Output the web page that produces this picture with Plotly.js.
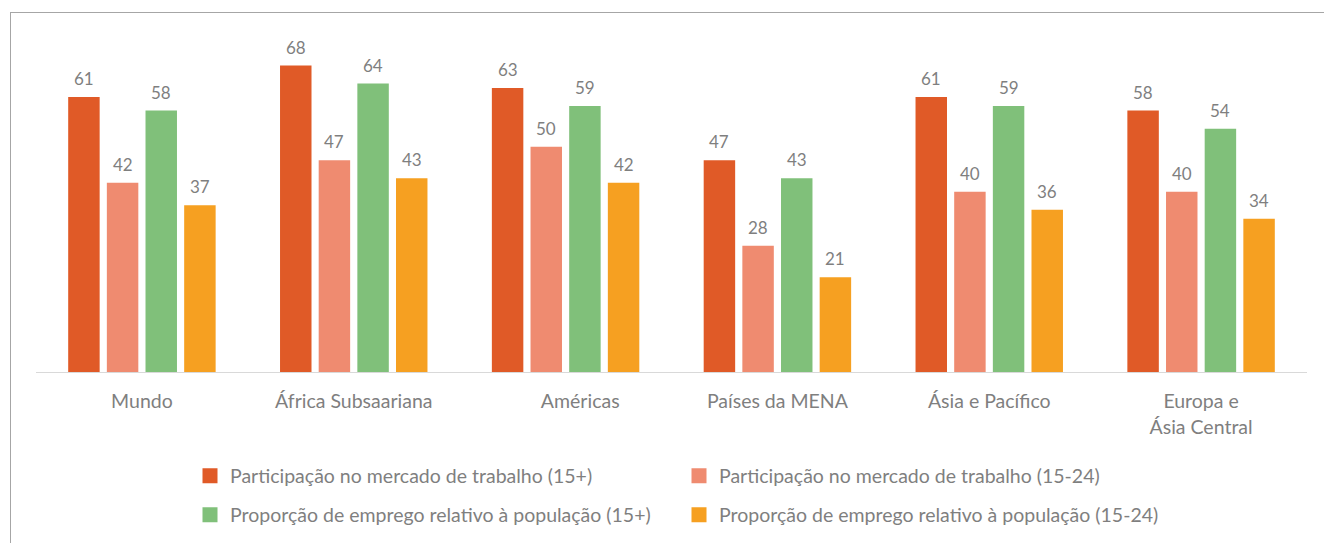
<!DOCTYPE html>
<html>
<head>
<meta charset="utf-8">
<script src="https://cdn.plot.ly/plotly-3.0.1.min.js"></script>
<style>
  html, body { margin: 0; padding: 0; background: #ffffff; overflow: hidden; }
  #frame { position: absolute; left: 10px; top: 12px; width: 1400px; height: 600px;
           border-top: 1px solid #a6a6a6; border-left: 1px solid #a6a6a6; pointer-events: none; }
  #chart { position: absolute; left: 0; top: 0; width: 1324px; height: 543px; }
</style>
</head>
<body>
<div id="chart"></div>
<div id="frame"></div>
<script>
// ---- data ----
const categories = ["Mundo", "África Subsaariana", "\u00a0\u00a0\u00a0\u00a0\u00a0\u00a0Américas", "Países da MENA", "Ásia e Pacífico", "Europa e<br>Ásia Central"];
const seriesNames = [
  "Participação no mercado de trabalho (15+)",
  "Participação no mercado de trabalho (15-24)",
  "Proporção de emprego relativo à população (15+)",
  "Proporção de emprego relativo à população (15-24)"
];
const lfp15 = [61, 68, 63, 47, 61, 58];
const lfp1524 = [42, 47, 50, 28, 40, 40];
const epr15 = [58, 64, 59, 43, 59, 54];
const epr1524 = [37, 43, 42, 21, 36, 34];

const seriesValues = [lfp15, lfp1524, epr15, epr1524];
const colors = ["#E05A27", "#EF8B70", "#80C07A", "#F6A021"];
const textColor = "#7f7f7f";
const fontFamily = "Lato, 'Open Sans', sans-serif";

const bargap = 0.27;
const bargroupgap = 0.186;

const traces = [];
seriesValues.forEach((vals, i) => {
  traces.push({
    type: "bar",
    x: categories,
    y: vals,
    name: seriesNames[i],
    marker: { color: colors[i] },
    showlegend: false,
    hoverinfo: "y+name"
  });
});
// legend proxies (square swatches)
seriesValues.forEach((vals, i) => {
  traces.push({
    type: "scatter",
    mode: "markers",
    x: [null], y: [null],
    name: seriesNames[i],
    marker: { color: colors[i], symbol: "square", size: 15 },
    showlegend: true,
    legend: i < 2 ? "legend" : "legend2",
    hoverinfo: "skip"
  });
});

// data labels above bars
const annotations = [];
const slot = (1 - bargap) / seriesValues.length;
seriesValues.forEach((vals, i) => {
  const off = (i - (seriesValues.length - 1) / 2) * slot;
  vals.forEach((v, j) => {
    annotations.push({
      x: j + off, y: v, xref: "x", yref: "y",
      text: String(v), showarrow: false,
      yanchor: "bottom", yshift: 6,
      font: { family: fontFamily, size: 17, color: textColor }
    });
  });
});

const legendCommon = {
  orientation: "h",
  xref: "paper", yref: "paper",
  xanchor: "left", yanchor: "middle",
  entrywidth: 444,
  entrywidthmode: "pixels",
  font: { family: fontFamily, size: 19.5, color: textColor },
  bgcolor: "rgba(0,0,0,0)",
  itemclick: false, itemdoubleclick: false
};

const layout = {
  width: 1324, height: 543,
  margin: { l: 36, r: 17, t: 34, b: 171, autoexpand: false },
  paper_bgcolor: "rgba(0,0,0,0)",
  plot_bgcolor: "rgba(0,0,0,0)",
  barmode: "group",
  bargap: bargap,
  bargroupgap: bargroupgap,
  font: { family: fontFamily, color: textColor },
  xaxis: {
    type: "category",
    showline: true, linecolor: "#d9d9d9", linewidth: 1,
    ticks: "", showgrid: false, zeroline: false,
    ticklabelstandoff: 12,
    tickfont: { family: fontFamily, size: 19.5, color: textColor },
    fixedrange: true
  },
  yaxis: {
    range: [0, 75], visible: false, showgrid: false, zeroline: false, fixedrange: true
  },
  annotations: annotations,
  showlegend: true,
  legend: Object.assign({}, legendCommon, { x: (190 - 36) / 1271, y: (372 - 476) / 338 }),
  legend2: Object.assign({}, legendCommon, { x: (190 - 36) / 1271, y: (372 - 515) / 338 })
};

Plotly.newPlot("chart", traces, layout, { displayModeBar: false, staticPlot: true });
</script>
</body>
</html>
